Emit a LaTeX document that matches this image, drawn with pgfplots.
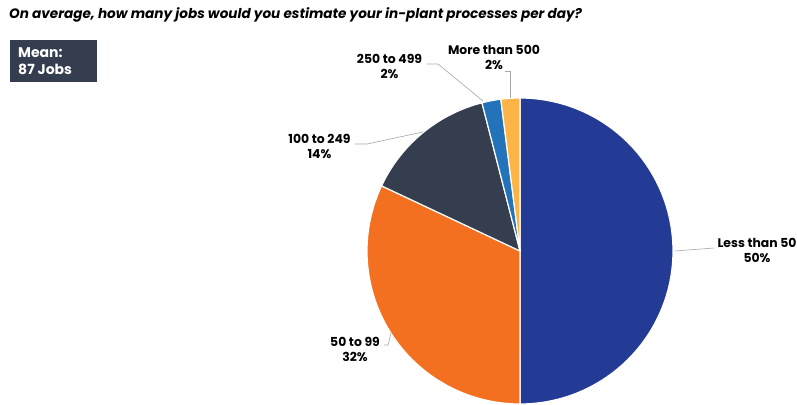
\documentclass[border=0pt]{standalone}
\usepackage{pgfplots}
\pgfplotsset{compat=1.18}
\usepackage{fontspec}
\setmainfont{Poppins}
\definecolor{cNavy}{HTML}{233B95}
\definecolor{cOrange}{HTML}{F37021}
\definecolor{cSlate}{HTML}{343E4F}
\definecolor{cBlue}{HTML}{2373BA}
\definecolor{cYellow}{HTML}{FDB447}
\definecolor{cLine}{HTML}{A6A6A6}
% shares (percent), clockwise from 12 o'clock
\def\vA{50}\def\vB{32}\def\vC{14}\def\vD{2}\def\vE{2}
\begin{document}
\begin{tikzpicture}
\pgfmathsetmacro\cA{\vA}
\pgfmathsetmacro\cB{\cA+\vB}
\pgfmathsetmacro\cC{\cB+\vC}
\pgfmathsetmacro\cD{\cC+\vD}
\pgfmathsetmacro\cE{\cD+\vE}
\begin{axis}[width=797pt,height=404pt,scale only axis,
  xmin=0,xmax=797,ymin=0,ymax=404,hide axis,clip=false]
\def\cx{520}\def\cy{153}\def\R{153}
\addplot[fill=cNavy,draw=white,line width=1.2pt,domain={90-3.6*\cA}:{90},samples=90]
  ({\cx+\R*cos(x)},{\cy+\R*sin(x)}) -- (axis cs:\cx,\cy) -- cycle;
\addplot[fill=cOrange,draw=white,line width=1.2pt,domain={90-3.6*\cB}:{90-3.6*\cA},samples=70]
  ({\cx+\R*cos(x)},{\cy+\R*sin(x)}) -- (axis cs:\cx,\cy) -- cycle;
\addplot[fill=cSlate,draw=white,line width=1.2pt,domain={90-3.6*\cC}:{90-3.6*\cB},samples=40]
  ({\cx+\R*cos(x)},{\cy+\R*sin(x)}) -- (axis cs:\cx,\cy) -- cycle;
\addplot[fill=cBlue,draw=white,line width=1.2pt,domain={90-3.6*\cD}:{90-3.6*\cC},samples=10]
  ({\cx+\R*cos(x)},{\cy+\R*sin(x)}) -- (axis cs:\cx,\cy) -- cycle;
\addplot[fill=cYellow,draw=white,line width=1.2pt,domain={90-3.6*\cE}:{90-3.6*\cD},samples=10]
  ({\cx+\R*cos(x)},{\cy+\R*sin(x)}) -- (axis cs:\cx,\cy) -- cycle;
% leader lines
\draw[cLine,line width=0.6pt] (axis cs:675,153) -- (axis cs:714,156);
\draw[cLine,line width=0.6pt] (axis cs:391,71) -- (axis cs:388,59) -- (axis cs:384,59);
\draw[cLine,line width=0.6pt] (axis cs:423,272) -- (axis cs:367,260) -- (axis cs:355,260);
\draw[cLine,line width=0.6pt] (axis cs:483,303) -- (axis cs:438,340) -- (axis cs:427,340);
\draw[cLine,line width=0.6pt] (axis cs:510,306) -- (axis cs:510,333) -- (axis cs:505,333);
% labels
\tikzset{lab/.style={font=\bfseries\fontsize{12.4}{15}\selectfont,anchor=base,inner sep=0pt,text=black}}
\node[lab] at (axis cs:757,156) {Less than 50};
\node[lab] at (axis cs:757,141) {50\%};
\node[lab] at (axis cs:355,57) {50 to 99};
\node[lab] at (axis cs:355,42) {32\%};
\node[lab] at (axis cs:319.5,260) {100 to 249};
\node[lab] at (axis cs:319.5,245) {14\%};
\node[lab] at (axis cs:389.5,340) {250 to 499};
\node[lab] at (axis cs:389.5,325) {2\%};
\node[lab] at (axis cs:494,349) {More than 500};
\node[lab] at (axis cs:494,334) {2\%};
% title
\node[anchor=base west,inner sep=0pt,font=\bfseries\itshape\fontsize{13.6}{15}\selectfont] at (axis cs:9,385) {On average, how many jobs would you estimate your in-plant processes per day?};
% mean box
\fill[cSlate] (axis cs:10,364) rectangle (axis cs:97,322);
\node[anchor=base west,inner sep=0pt,text=white,font=\bfseries\fontsize{14}{17}\selectfont] at (axis cs:18,346) {Mean:};
\node[anchor=base west,inner sep=0pt,text=white,font=\bfseries\fontsize{14}{17}\selectfont] at (axis cs:18,329) {87 Jobs};
\end{axis}
\pgfresetboundingbox
\useasboundingbox (current axis.south west) rectangle (current axis.north east);
\end{tikzpicture}
\end{document}
